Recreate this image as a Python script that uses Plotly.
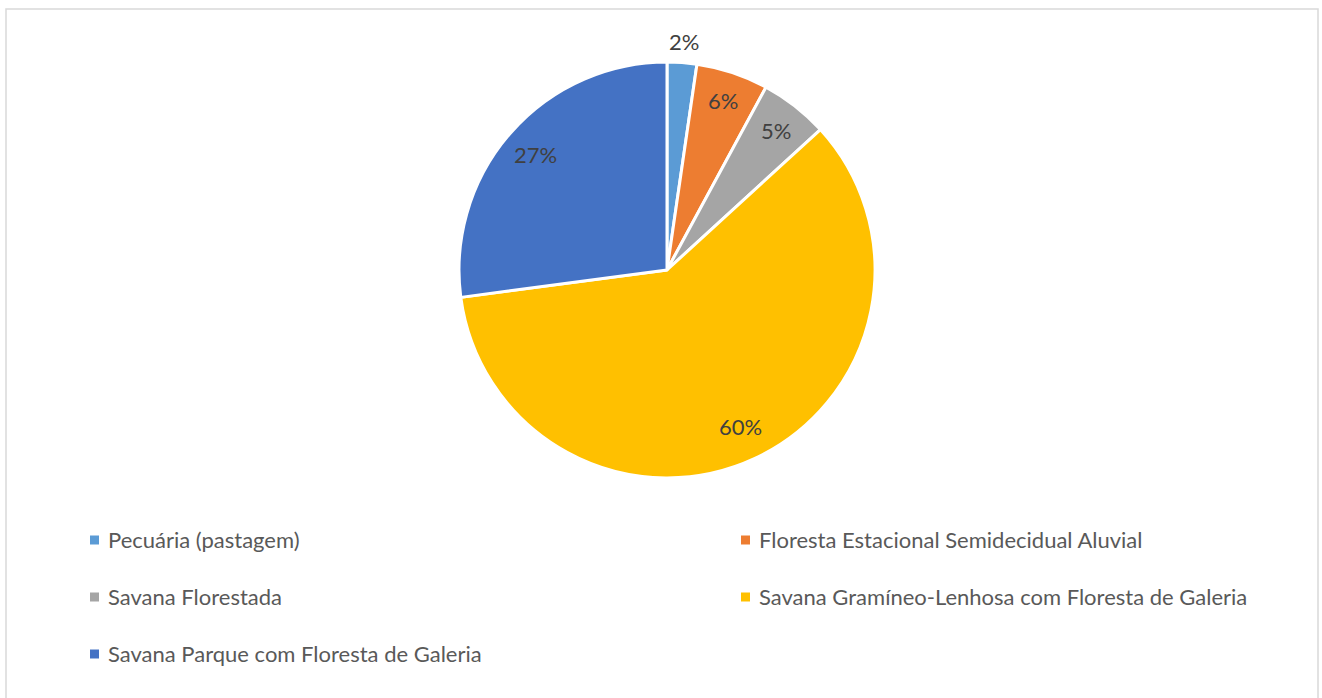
import math
import plotly.graph_objects as go

labels = [
    "Pecuária (pastagem)",
    "Floresta Estacional Semidecidual Aluvial",
    "Savana Florestada",
    "Savana Gramíneo-Lenhosa com Floresta de Galeria",
    "Savana Parque com Floresta de Galeria",
]
values = [2.3, 5.6, 5.3, 59.7, 27.1]
colors = ["#5B9BD5", "#ED7D31", "#A5A5A5", "#FFC000", "#4472C4"]
label_radius = [1.10, 0.86, 0.85, 0.83, 0.84]  # data-label distance, fraction of radius

W, H = 1322, 698
FONT = "Lato"


def px(x):
    return x / W


def py(y):
    return 1 - y / H


cx, cy, r = 667, 270, 208

fig = go.Figure()
fig.add_trace(go.Pie(
    labels=labels,
    values=values,
    sort=False,
    direction="clockwise",
    rotation=0,
    marker=dict(colors=colors, line=dict(color="white", width=3)),
    textinfo="none",
    domain=dict(x=[px(cx - r), px(cx + r)], y=[py(cy + r), py(cy - r)]),
    showlegend=False,
    hoverinfo="label+percent",
))

shapes = [dict(type="rect", xref="paper", yref="paper",
               x0=px(6), x1=px(1318), y0=py(704), y1=py(9),
               line=dict(color="#D9D9D9", width=1.5), fillcolor="rgba(0,0,0,0)")]
annotations = []

# data labels, placed from the values (mid-angle of each slice)
total = sum(values)
cum = 0.0
for v, k in zip(values, label_radius):
    mid = (cum + v / 2) / total * 2 * math.pi
    cum += v
    lx = cx + k * r * math.sin(mid)
    ly = cy - k * r * math.cos(mid)
    annotations.append(dict(xref="paper", yref="paper", x=px(lx), y=py(ly),
                            xanchor="center", yanchor="middle", showarrow=False,
                            text=f"{round(v / total * 100)}%",
                            font=dict(family=FONT, size=22, color="#404040")))

# legend
col_x = [90, 741]
row_y = [539, 596, 653]
for i, lab in enumerate(labels):
    col = i % 2
    row = i // 2
    mx = col_x[col]
    my = row_y[row]
    shapes.append(dict(type="rect", xref="paper", yref="paper",
                       x0=px(mx), x1=px(mx + 9), y0=py(my + 5.5), y1=py(my - 3.5),
                       line=dict(width=0), fillcolor=colors[i]))
    annotations.append(dict(xref="paper", yref="paper", x=px(mx + 16), y=py(my),
                            xanchor="left", yanchor="middle", showarrow=False,
                            text=lab, font=dict(family=FONT, size=22, color="#595959")))

fig.update_layout(
    width=W, height=H,
    margin=dict(l=0, r=0, t=0, b=0),
    paper_bgcolor="white",
    plot_bgcolor="white",
    shapes=shapes,
    annotations=annotations,
    font=dict(family=FONT),
)

fig.write_html("out.html", config={"displayModeBar": False},
               post_script="document.body.style.margin='0';document.body.style.overflow='hidden';")
